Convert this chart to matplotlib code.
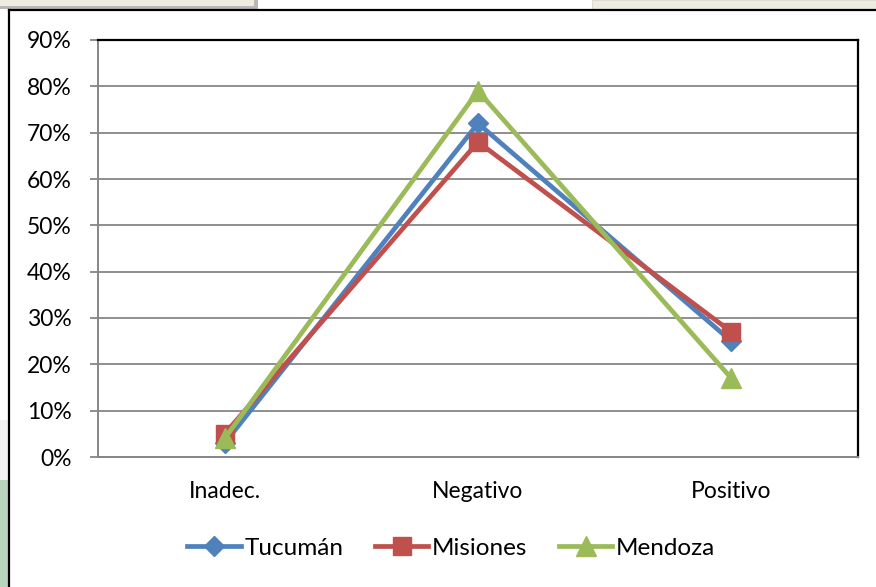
import matplotlib
matplotlib.use("Agg")
import matplotlib.pyplot as plt
from matplotlib.patches import Rectangle
from matplotlib.lines import Line2D
from matplotlib.ticker import FuncFormatter

categories = ["Inadec.", "Negativo", "Positivo"]
tucuman = [3, 72, 25]
misiones = [5, 68, 27]
mendoza = [4, 79, 17]
yticks = [0, 10, 20, 30, 40, 50, 60, 70, 80, 90]

plt.rcParams['font.family'] = ['Lato', 'DejaVu Sans']

W, H = 876, 587
fig = plt.figure(figsize=(W / 100, H / 100), dpi=100)
fig.patch.set_facecolor('white')

def px_rect(x0, y0, x1, y1, **kw):
    r = Rectangle((x0 / W, 1 - y1 / H), (x1 - x0) / W, (y1 - y0) / H,
                  transform=fig.transFigure, figure=fig, **kw)
    fig.patches.append(r)

# background decorations
px_rect(0, 0, 258, 9, facecolor='#b8b8b8', edgecolor='none', zorder=0)
px_rect(0, 0, 254, 6, facecolor='#eeece1', edgecolor='none', zorder=1)
px_rect(592, 0, 876, 9, facecolor='#eeece1', edgecolor='#d8d8d0', linewidth=0.6, zorder=1)
px_rect(0, 420, 8, 480, facecolor='#f2f2f2', edgecolor='none', zorder=0)
px_rect(0, 480, 8, 587, facecolor='#b7d4bd', edgecolor='none', zorder=0)
# outer frame
fig.lines.append(Line2D([9 / W, 1.0], [1 - 10 / H, 1 - 10 / H], transform=fig.transFigure,
                        color='black', linewidth=1.6))
fig.lines.append(Line2D([9 / W, 9 / W], [0, 1 - 10 / H], transform=fig.transFigure,
                        color='black', linewidth=1.6))

ax = fig.add_axes([98 / W, 130 / H, 760 / W, 417 / H])
ax.set_facecolor('white')

x = list(range(len(categories)))
series = [
    ("Tucumán", tucuman, '#4f81bd', 'D', 10.5),
    ("Misiones", misiones, '#c0504d', 's', 13.5),
    ("Mendoza", mendoza, '#9bbb59', '^', 14.5),
]
for i, (name, vals, col, mk, ms) in enumerate(series):
    ax.plot(x, vals, color=col, linewidth=3.4, marker=mk, markersize=ms,
            markerfacecolor=col, markeredgecolor=col, label=name, zorder=3 + i,
            solid_joinstyle='miter')

ax.set_xlim(-0.5, 2.5)
ax.set_ylim(0, 90)
ax.set_yticks(yticks)
ax.yaxis.set_major_formatter(FuncFormatter(lambda v, p: f"{int(v)}%"))
ax.set_xticks(x)
ax.set_xticklabels(categories)
ax.grid(axis='y', color='#868686', linewidth=1.3, zorder=1)
ax.set_axisbelow(True)

for s in ['top', 'right']:
    ax.spines[s].set_color('black')
    ax.spines[s].set_linewidth(1.6)
for s in ['left', 'bottom']:
    ax.spines[s].set_color('#868686')
    ax.spines[s].set_linewidth(1.4)

ax.tick_params(axis='y', length=6, width=1.3, color='#868686', pad=13,
               labelsize=16.5, labelcolor='black')
ax.tick_params(axis='x', length=0, pad=17, labelsize=16.5, labelcolor='black')

leg = fig.legend(loc='center', bbox_to_anchor=(0.515, 0.066), ncol=3, frameon=False,
                 fontsize=17.5, handlelength=2.2, handletextpad=0.15, columnspacing=1.3)

fig.savefig('out.png', dpi=100, facecolor='white')
